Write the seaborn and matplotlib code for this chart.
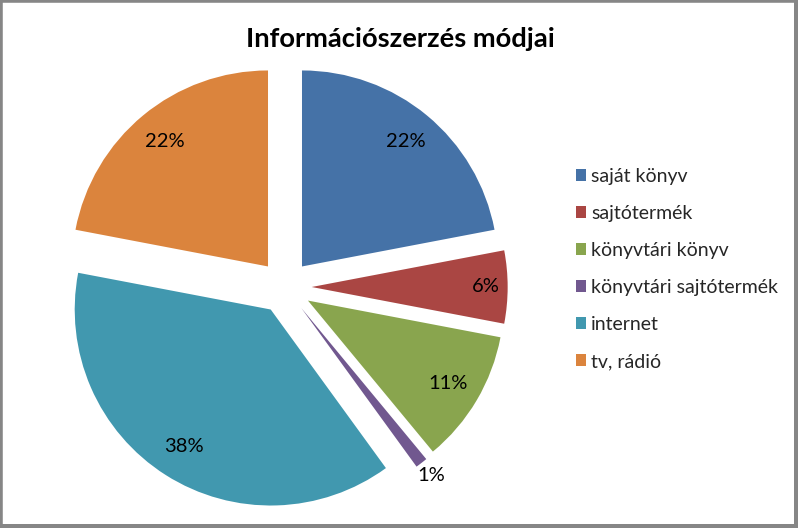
import numpy as np
import matplotlib
matplotlib.use("Agg")
import matplotlib.pyplot as plt
import seaborn as sns
from matplotlib.patches import Rectangle

categories = ["saját könyv", "sajtótermék", "könyvtári könyv",
              "könyvtári sajtótermék", "internet", "tv, rádió"]
values = [22, 6, 11, 1, 38, 22]
colors = ["#4572A7", "#AA4643", "#89A54E", "#71588F", "#4198AF", "#DB843D"]
title = "Információszerzés módjai"

sns.set_theme(style="white")
plt.rcParams['font.family'] = ['Lato', 'DejaVu Sans']

W, H = 798, 528
fig = plt.figure(figsize=(W / 100, H / 100), dpi=100)
ax = fig.add_axes([0, 0, 1, 1])

R = 196.0
cx, cy = 285.0, 241.0
explode = [0.136] * len(values)
wedges, texts, autotexts = ax.pie(
    values, colors=colors, startangle=90, counterclock=False,
    explode=explode, radius=1.0, autopct=lambda p: f"{p:.0f}%",
    pctdistance=0.83, textprops=dict(fontsize=14.5, color="#000000"),
    wedgeprops=dict(linewidth=0))

# adjust a few label distances like Excel best fit
special = {1: 0.89, 3: 1.08}
for i, (w, t) in enumerate(zip(wedges, autotexts)):
    if i in special:
        ang = np.deg2rad((w.theta1 + w.theta2) / 2)
        ex = explode[i]
        d = special[i]
        t.set_position(((ex + d) * np.cos(ang), (ex + d) * np.sin(ang)))

ax.set_xlim(-cx / R, (W - cx) / R)
ax.set_ylim(-cy / R, (H - cy) / R)
ax.set_aspect('auto')
ax.axis('off')

fig.text(400 / W, 1 - 39 / H, title, ha='center', va='center',
         fontsize=19.7, fontweight='bold', color='#000000')

leg = fig.legend(wedges, categories, loc='upper left',
                 bbox_to_anchor=(568 / W, 1 - 160 / H), frameon=False,
                 fontsize=14, handlelength=0.55, handleheight=0.55,
                 handletextpad=0.25, labelspacing=1.03, borderaxespad=0)

# outer border with shadow
fig.patches.append(Rectangle((0, 0), 1, 1, transform=fig.transFigure,
                             fill=False, edgecolor='#868686', linewidth=4))
fig.patches.append(Rectangle((1 - 4 / W, 0), 4 / W, 1, transform=fig.transFigure,
                             facecolor='#868686', edgecolor='none'))
fig.patches.append(Rectangle((0, 0), 1, 4 / H, transform=fig.transFigure,
                             facecolor='#868686', edgecolor='none'))

fig.savefig("out.png", dpi=100)
